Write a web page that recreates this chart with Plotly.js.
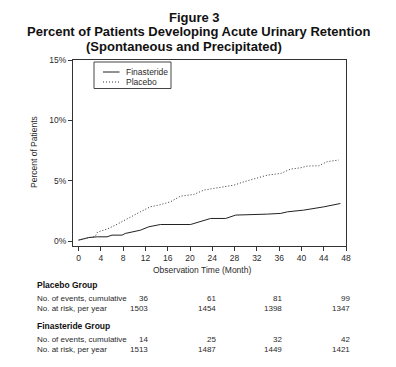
<!DOCTYPE html>
<html><head><meta charset="utf-8">
<script src="https://cdn.plot.ly/plotly-3.0.1.min.js"></script>
<style>html,body{margin:0;padding:0;background:#fff}#c{width:396px;height:367px}</style>
</head><body><div id="c"></div>
<script>
const placeboMonths = [0, 1.8, 3, 3.4, 5.1, 6.5, 7.8, 9.5, 11.1, 12.9, 14.5, 16.5, 18.3, 20.7, 22.5, 24.3, 26, 27.9, 29.7, 32.1, 33.9, 36.3, 38.1, 39.9, 41.1, 43.1, 44.6, 46.7];
const placeboPct = [0.1, 0.3, 0.4, 0.75, 1.0, 1.3, 1.6, 2.0, 2.43, 2.85, 3.0, 3.26, 3.73, 3.87, 4.23, 4.37, 4.5, 4.64, 4.92, 5.2, 5.47, 5.61, 5.97, 6.08, 6.22, 6.24, 6.58, 6.72];
const finMonths = [0, 1.8, 3.4, 5.1, 6.0, 7.8, 8.4, 11.1, 12.6, 14.7, 20.1, 21.9, 23.7, 26.4, 28.2, 33.9, 36.3, 37.5, 40.4, 44, 46.4, 47];
const finPct = [0.08, 0.3, 0.36, 0.36, 0.5, 0.5, 0.64, 0.91, 1.19, 1.38, 1.38, 1.6, 1.88, 1.88, 2.16, 2.24, 2.3, 2.43, 2.57, 2.84, 3.04, 3.12];

const seriesNames = ["Finasteride", "Placebo"];
const xTicks = [0, 4, 8, 12, 16, 20, 24, 28, 32, 36, 40, 44, 48];
const yTicks = [0, 5, 10, 15];
const yTickLabels = ["0%", "5%", "10%", "15%"];
const titleLines = ["Figure 3", "Percent of Patients Developing Acute Urinary Retention", "(Spontaneous and Precipitated)"];
const xTitle = "Observation Time (Month)";
const yTitle = "Percent of Patients";
const groupNames = ["Placebo Group", "Finasteride Group"];
const rowLabels = ["No. of events, cumulative", "No. at risk, per year"];
const placeboEvents = ["36", "61", "81", "99"];
const placeboAtRisk = ["1503", "1454", "1398", "1347"];
const finEvents = ["14", "25", "32", "42"];
const finAtRisk = ["1513", "1487", "1449", "1421"];

const L = 73, R = 346, T = 60, B = 246, W = 396, H = 367;
const px = x => (x - L) / (R - L);
const py = y => (B - y) / (B - T);
const FONT = "Liberation Sans, Arial, sans-serif";
const TXT = "#2a2a2a";
const LINE_COL = "#333";
const FIN_STYLE = {color: "#222", width: 1, dash: "solid"};
const PLA_STYLE = {color: "#333", width: 1, dash: "1px,2px"};

const annotations = [];
const shapes = [];
const ann = (text, x, y, xa, size, extra) => annotations.push(Object.assign({
  text: text, xref: "paper", yref: "paper", x: px(x), y: py(y), xanchor: xa, yanchor: "middle",
  showarrow: false, font: {family: FONT, size: size, color: TXT}}, extra || {}));

const titleY = [17, 32, 46];
const titleX = [194, 198, 184];
titleLines.forEach((t, i) => ann("<b>" + t + "</b>", titleX[i], titleY[i], "center", 13, {font: {family: FONT, size: 13, color: "#111"}}));

ann(xTitle, 202, 270, "center", 8.5);
ann(yTitle, 34, 152, "center", 8.5, {textangle: -90});

const colX = [150, 218, 284, 352];
const groups = [[placeboEvents, placeboAtRisk], [finEvents, finAtRisk]];
const groupY = [285, 326];
groups.forEach((g, gi) => {
  ann("<b>" + groupNames[gi] + "</b>", 35, groupY[gi], "left", 8.5, {font: {family: FONT, size: 8.5, color: "#111"}});
  g.forEach((row, ri) => {
    const yy = groupY[gi] + 13 + ri * 10;
    ann(rowLabels[ri], 35, yy, "left", 8);
    row.forEach((v, ci) => ann(v, colX[ci], yy, "right", 8));
  });
});

// legend box
shapes.push({type: "rect", xref: "paper", yref: "paper", x0: px(94), x1: px(171), y0: py(62), y1: py(88.5),
  line: {color: "#444", width: 1}, fillcolor: "#fff"});
const legY = [72, 82];
[FIN_STYLE, PLA_STYLE].forEach((st, i) => {
  shapes.push({type: "line", xref: "paper", yref: "paper", x0: px(103), x1: px(119.5), y0: py(legY[i]), y1: py(legY[i]),
    line: {color: st.color, width: 1, dash: st.dash}});
  ann(seriesNames[i], 123.5, legY[i], "left", 8.5);
});

const traces = [
  {x: finMonths, y: finPct, name: seriesNames[0], mode: "lines", line: FIN_STYLE},
  {x: placeboMonths, y: placeboPct, name: seriesNames[1], mode: "lines", line: PLA_STYLE}
];

const layout = {
  width: W, height: H, margin: {l: L, r: W - R, t: T, b: H - B},
  paper_bgcolor: "#fff", plot_bgcolor: "#fff",
  font: {family: FONT, size: 8, color: TXT},
  showlegend: false,
  xaxis: {range: [-1, 48], tickvals: xTicks, showgrid: false, zeroline: false,
    showline: true, mirror: true, linecolor: LINE_COL, linewidth: 1, ticks: "outside", ticklen: 4, tickcolor: LINE_COL,
    tickfont: {family: FONT, size: 8.5, color: TXT}},
  yaxis: {range: [-0.4, 15], tickvals: yTicks, ticktext: yTickLabels, showgrid: false, zeroline: false,
    showline: true, mirror: true, linecolor: LINE_COL, linewidth: 1, ticks: "outside", ticklen: 4, tickcolor: LINE_COL,
    tickfont: {family: FONT, size: 8.5, color: TXT}},
  annotations: annotations,
  shapes: shapes
};
Plotly.newPlot("c", traces, layout, {staticPlot: true, displayModeBar: false});
</script></body></html>
